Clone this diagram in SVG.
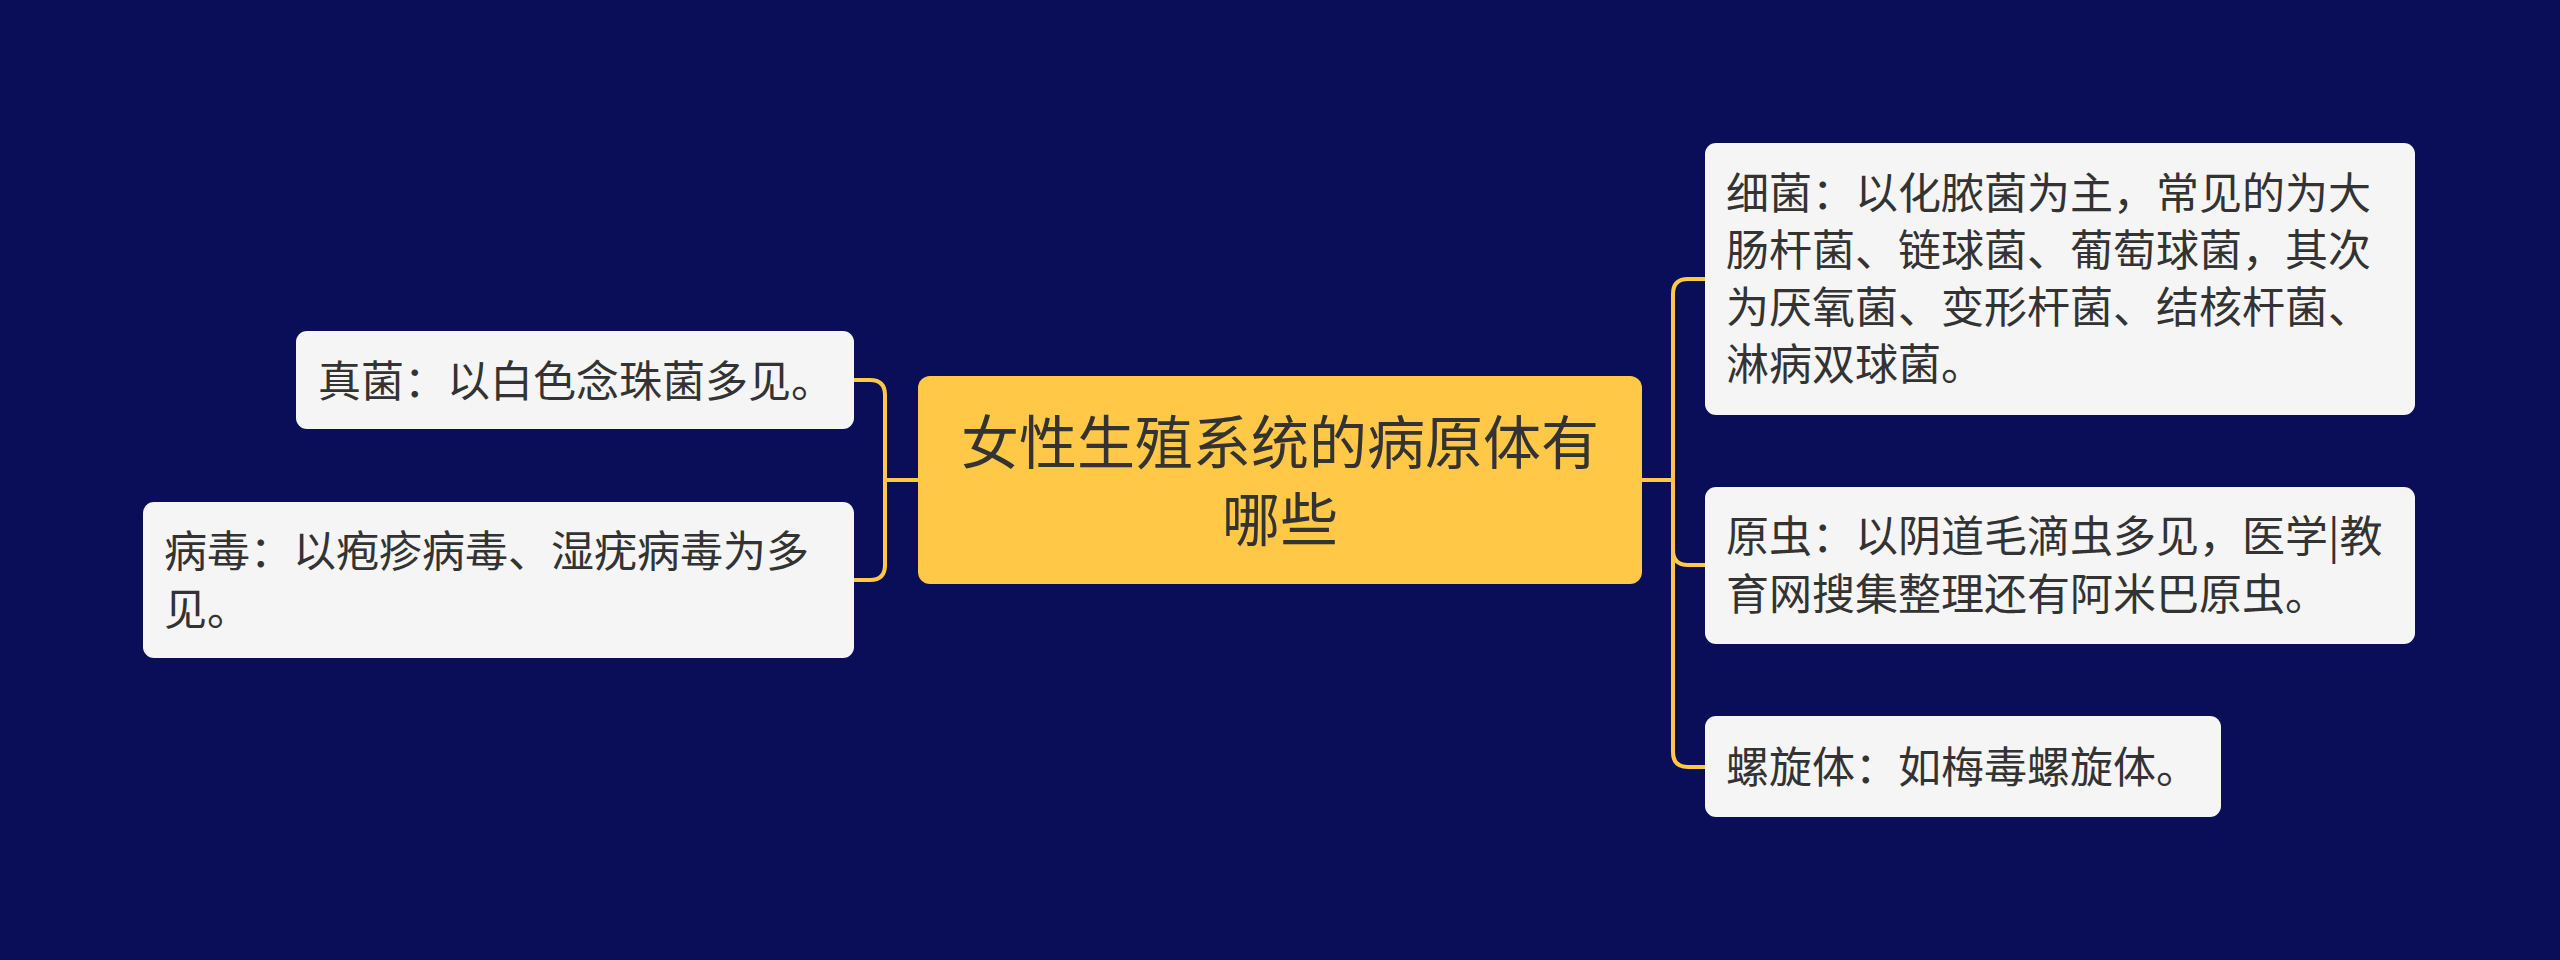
<svg xmlns="http://www.w3.org/2000/svg" width="2560" height="960" viewBox="0 0 2560 960">
<style>
.bg{fill:#0A0E59}
.leaf{fill:#F5F5F5}
.root{fill:#FFC846}
.t{font-family:"Noto Sans CJK SC","Noto Sans",sans-serif;fill:#333333}
.lt{font-size:43px}
.rt{font-size:58px}
.c{fill:none;stroke:#FFC846;stroke-width:4}
</style>
<rect class="bg" x="0" y="0" width="2560" height="960"/>
<g id="connectors">
<path class="c" d="M918 480 H885 V395 Q885 380 870 380 H854"/>
<path class="c" d="M918 480 H885 V565 Q885 580 870 580 H854"/>
<path class="c" d="M1642 480 H1673 V294 Q1673 279 1688 279 H1705"/>
<path class="c" d="M1642 480 H1673 V550 Q1673 565 1688 565 H1705"/>
<path class="c" d="M1642 480 H1673 V752 Q1673 767 1688 767 H1705"/>
</g>
<g id="root">
<rect class="root" x="918" y="376" width="724" height="208" rx="12"/>
<text class="t rt" text-anchor="middle"><tspan x="1280" y="464">女性生殖系统的病原体有</tspan><tspan x="1280" y="541">哪些</tspan></text>
</g>
<g id="zhenjun">
<rect class="leaf" x="296" y="331" width="558" height="98" rx="11"/>
<text class="t lt" x="318" y="397">真菌：以白色念珠菌多见。</text>
</g>
<g id="bingdu">
<rect class="leaf" x="143" y="502" width="711" height="156" rx="11"/>
<text class="t lt"><tspan x="164" y="567">病毒：以疱疹病毒、湿疣病毒为多</tspan><tspan x="164" y="625">见。</tspan></text>
</g>
<g id="xijun">
<rect class="leaf" x="1705" y="143" width="710" height="272" rx="11"/>
<text class="t lt"><tspan x="1726" y="209">细菌：以化脓菌为主，常见的为大</tspan><tspan x="1726" y="266">肠杆菌、链球菌、葡萄球菌，其次</tspan><tspan x="1726" y="323">为厌氧菌、变形杆菌、结核杆菌、</tspan><tspan x="1726" y="380">淋病双球菌。</tspan></text>
</g>
<g id="yuanchong">
<rect class="leaf" x="1705" y="487" width="710" height="157" rx="11"/>
<text class="t lt"><tspan x="1726" y="552">原虫：以阴道毛滴虫多见，医学|教</tspan><tspan x="1726" y="610">育网搜集整理还有阿米巴原虫。</tspan></text>
</g>
<g id="luoxuanti">
<rect class="leaf" x="1705" y="716" width="516" height="101" rx="11"/>
<text class="t lt" x="1726" y="783">螺旋体：如梅毒螺旋体。</text>
</g>
</svg>
